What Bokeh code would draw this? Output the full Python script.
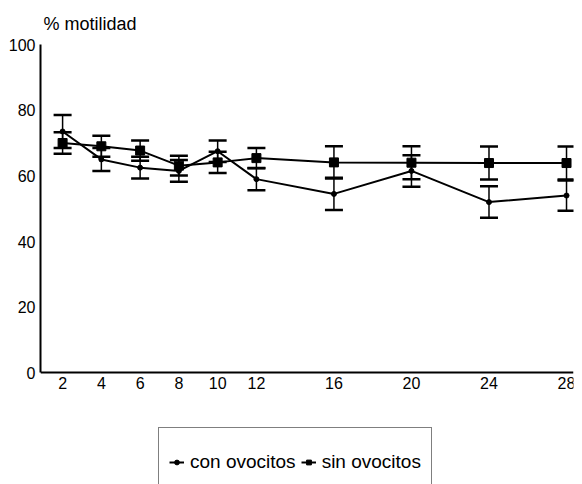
from bokeh.plotting import figure
from bokeh.models import (Range1d, FixedTicker, Whisker, TeeHead, ColumnDataSource,
                          Legend, LegendItem, LinearAxis)
from bokeh.embed import file_html
from bokeh.resources import INLINE

# Data (days, % motility)
dias = [2, 4, 6, 8, 10, 12, 16, 20, 24, 28]
con_ovocitos = [73.5, 65.0, 62.5, 61.5, 67.5, 59.0, 54.5, 61.5, 52.0, 54.0]
con_err = [5.0, 3.5, 3.3, 3.3, 3.3, 3.4, 4.9, 4.8, 4.8, 4.6]
sin_ovocitos = [70.0, 69.0, 67.7, 63.1, 64.1, 65.4, 64.1, 64.0, 63.9, 63.9]
sin_err = [3.3, 3.2, 3.1, 3.0, 3.2, 3.1, 4.9, 5.0, 5.0, 5.0]
y_ticks = [0, 20, 40, 60, 80, 100]
series_names = ["con ovocitos", "sin ovocitos"]

FONT = "Liberation Sans"

p = figure(width=582, height=484, output_backend="svg", toolbar_location=None,
           x_range=Range1d(0.86, 28.36), y_range=Range1d(-34.0, 100),
           x_axis_location=None,
           min_border_left=40, min_border_right=9, min_border_top=43,
           min_border_bottom=0, title="% motilidad")
p.outline_line_color = None
p.grid.visible = False
p.background_fill_color = "white"

p.title.text_font = FONT
p.title.text_font_size = "18px"
p.title.text_font_style = "normal"
p.title.text_color = "black"
p.title.align = "left"
p.title.offset = 3
p.title.standoff = 22

xaxis = LinearAxis(fixed_location=0)
p.add_layout(xaxis, "below")

for ax in (xaxis, p.yaxis[0]):
    ax.axis_line_width = 2
    ax.axis_line_color = "black"
    ax.major_tick_out = 0
    ax.major_tick_in = 0
    ax.minor_tick_out = 0
    ax.minor_tick_in = 0
    ax.major_label_text_font = FONT
    ax.major_label_text_font_size = "16px"
    ax.major_label_text_color = "black"
xaxis.ticker = FixedTicker(ticks=dias)
p.yaxis.ticker = FixedTicker(ticks=y_ticks)
p.yaxis.bounds = (0, 100)
xaxis.major_label_standoff = 4
p.yaxis.major_label_standoff = 5

src = ColumnDataSource(dict(
    x=dias, con=con_ovocitos, sin=sin_ovocitos,
    con_lo=[v - e for v, e in zip(con_ovocitos, con_err)],
    con_hi=[v + e for v, e in zip(con_ovocitos, con_err)],
    sin_lo=[v - e for v, e in zip(sin_ovocitos, sin_err)],
    sin_hi=[v + e for v, e in zip(sin_ovocitos, sin_err)],
))

for lo, hi in (("sin_lo", "sin_hi"), ("con_lo", "con_hi")):
    w = Whisker(source=src, base="x", lower=lo, upper=hi,
                line_color="black", line_width=1.5,
                upper_head=TeeHead(size=18, line_color="black", line_width=2.5),
                lower_head=TeeHead(size=18, line_color="black", line_width=2.5))
    p.add_layout(w)

l_sin = p.line("x", "sin", source=src, line_color="black", line_width=2)
m_sin = p.scatter("x", "sin", source=src, marker="square", size=9,
                  fill_color="black", line_color="black")
l_con = p.line("x", "con", source=src, line_color="black", line_width=2)
m_con = p.scatter("x", "con", source=src, marker="circle", size=5,
                  fill_color="black", line_color="black")

legend = Legend(items=[LegendItem(label=series_names[0], renderers=[l_con, m_con]),
                       LegendItem(label=series_names[1], renderers=[l_sin, m_sin])],
                orientation="horizontal", location=(118, -13))
legend.label_text_font = FONT
legend.label_text_font_size = "19px"
legend.label_text_color = "black"
legend.glyph_width = 15
legend.glyph_height = 12
legend.label_standoff = 6
legend.spacing = 5
legend.padding = 10
legend.label_height = 48
legend.margin = 0
legend.border_line_color = "black"
legend.border_line_width = 1.5
legend.background_fill_alpha = 1
p.add_layout(legend, "center")

open("out.html", "w").write(file_html(p, INLINE))
